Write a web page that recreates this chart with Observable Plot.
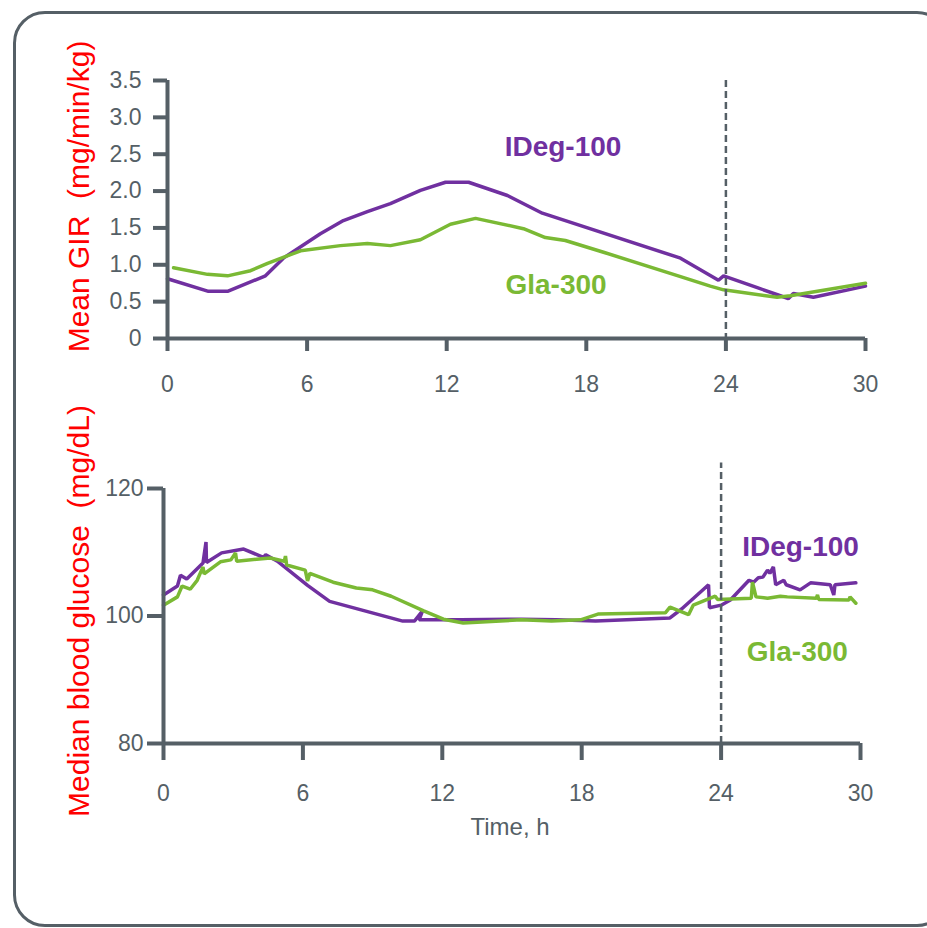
<!DOCTYPE html>
<html>
<head>
<meta charset="utf-8">
<script src="https://cdn.jsdelivr.net/npm/d3@7"></script>
<script src="https://cdn.jsdelivr.net/npm/@observablehq/plot@0.6"></script>
<style>
  html, body { margin: 0; padding: 0; background: #ffffff; }
  #wrap { position: relative; width: 927px; height: 928px; overflow: hidden; background: #fff; font-family: "Liberation Sans", Arial, sans-serif; }
  #border { position: absolute; left: 13px; top: 11px; width: 936px; height: 916px; border: 3px solid #555f66; border-radius: 32px; box-sizing: border-box; }
  .panel { position: absolute; left: 0; }
</style>
</head>
<body>
<div id="wrap">
  <div id="border"></div>
  <div id="topPanel" class="panel" style="top:0px"></div>
  <div id="bottomPanel" class="panel" style="top:400px"></div>
</div>
<script>
// ---------- data ----------
const hourTicks = [0, 6, 12, 18, 24, 30];
const girTicks = [0, 0.5, 1.0, 1.5, 2.0, 2.5, 3.0, 3.5];
const glucoseTicks = [80, 100, 120];
const dividerHour = [24];
const glucoseDividerSpan = [80, 124];

const seriesNames = ["IDeg-100", "Gla-300"];
const seriesColors = ["#7030a0", "#7ab934"];

// Mean GIR (mg/min/kg)
const girIDegHours  = [0, 1.76, 2.58, 4.21, 4.98, 6.57, 7.56, 8.59, 9.58, 10.87, 11.95, 12.94, 14.61, 16.11, 22.05, 23.68, 23.9, 25.35, 26.34, 26.68, 26.9, 27.76, 30];
const girIDegValues = [0.81, 0.64, 0.64, 0.85, 1.09, 1.42, 1.60, 1.72, 1.83, 2.01, 2.12, 2.12, 1.94, 1.70, 1.09, 0.79, 0.85, 0.69, 0.58, 0.54, 0.61, 0.56, 0.71];
const girGlaHours   = [0.26, 1.72, 2.58, 3.57, 4.30, 5.72, 7.43, 8.59, 9.58, 10.87, 12.16, 13.24, 15.30, 16.24, 17.10, 18.74, 22.05, 23.33, 23.9, 26.2, 26.77, 30];
const girGlaValues  = [0.96, 0.87, 0.85, 0.92, 1.02, 1.19, 1.26, 1.29, 1.26, 1.34, 1.55, 1.63, 1.49, 1.37, 1.33, 1.17, 0.84, 0.71, 0.66, 0.56, 0.58, 0.75];

// Median blood glucose (mg/dL)
const bgIDegHours  = [0, 0.6, 0.73, 1.0, 1.7, 1.83, 1.85, 2.5, 3.45, 4.3, 4.4, 4.9, 6.2, 7.15, 10.3, 10.8, 11.15, 11.0, 12.8, 15.4, 16.9, 18.6, 21.8, 22.3, 23.46, 23.5, 24.0, 24.4, 25.2, 25.4, 25.6, 25.8, 26.0, 26.1, 26.25, 26.35, 26.7, 26.8, 27.4, 27.85, 28.7, 28.85, 28.9, 29.8];
const bgIDegValues = [103.3, 104.7, 106.4, 105.8, 108.3, 111.6, 108.4, 109.9, 110.5, 109.2, 109.6, 108.6, 104.8, 102.3, 99.2, 99.2, 100.8, 99.4, 99.4, 99.5, 99.4, 99.2, 99.7, 101.1, 104.9, 101.3, 101.7, 102.5, 105.6, 105.3, 106.0, 106.1, 107.2, 106.7, 107.7, 104.9, 105.6, 104.9, 104.1, 105.2, 104.9, 103.3, 104.9, 105.2];
const bgGlaHours   = [0, 0.6, 0.8, 1.15, 1.45, 1.7, 1.75, 2.45, 2.9, 3.1, 3.15, 4.6, 5.2, 5.25, 5.3, 6.1, 6.2, 6.3, 7.3, 8.3, 9.0, 9.8, 11.2, 12.05, 12.9, 15.4, 16.7, 17.95, 18.7, 21.6, 21.8, 22.6, 22.8, 23.75, 23.85, 25.3, 25.35, 25.5, 26.0, 26.55, 26.85, 28.1, 28.15, 28.2, 29.5, 29.55, 29.8];
const bgGlaValues  = [101.7, 103.0, 104.7, 104.2, 105.6, 107.7, 106.6, 108.5, 108.8, 109.9, 108.6, 109.1, 108.6, 109.4, 108.0, 107.2, 105.5, 106.7, 105.3, 104.4, 104.1, 103.1, 100.8, 99.5, 98.9, 99.4, 99.2, 99.4, 100.3, 100.5, 101.4, 100.2, 101.7, 103.1, 102.6, 102.8, 105.3, 103.0, 102.8, 103.1, 103.0, 102.8, 103.3, 102.6, 102.5, 103.0, 102.0];

// label anchors (data units)
const girLabelHours = [17.0, 16.7];
const girLabelValues = [2.60, 0.72];
const bgLabelHours = [27.42, 27.28];
const bgLabelValues = [110.75, 94.3];

// ---------- helpers ----------
const AXIS = "#555f66";
const FONT = "'Liberation Sans', Arial, Helvetica, sans-serif";
const toRows = (hours, values, s) => hours.map((h, i) => ({hour: h, value: values[i], series: s}));
const girData = [...toRows(girIDegHours, girIDegValues, seriesNames[0]), ...toRows(girGlaHours, girGlaValues, seriesNames[1])];
const bgData = [...toRows(bgIDegHours, bgIDegValues, seriesNames[0]), ...toRows(bgGlaHours, bgGlaValues, seriesNames[1])];
const girLabels = seriesNames.map((s, i) => ({series: s, hour: girLabelHours[i], value: girLabelValues[i]}));
const bgLabels = seriesNames.map((s, i) => ({series: s, hour: bgLabelHours[i], value: bgLabelValues[i]}));
const colorOf = s => seriesColors[seriesNames.indexOf(s)];

// ---------- top panel ----------
const topChart = Plot.plot({
  width: 927, height: 400,
  marginLeft: 167, marginRight: 62, marginTop: 80, marginBottom: 62,
  style: {fontFamily: FONT, color: AXIS, background: "transparent", overflow: "visible"},
  x: {domain: [0, 30]},
  y: {domain: [0, 3.5]},
  marks: [
    Plot.line(girData, {x: "hour", y: "value", z: "series", stroke: d => colorOf(d.series), strokeWidth: 3.5, strokeLinejoin: "miter"}),
    Plot.ruleX(dividerHour, {stroke: AXIS, strokeWidth: 2.5, strokeDasharray: "7,4"}),
    Plot.ruleX([0], {stroke: AXIS, strokeWidth: 4}),
    Plot.ruleY([0], {stroke: AXIS, strokeWidth: 4}),
    Plot.axisY(girTicks, {tickSize: 14, tickPadding: 12, fontSize: 23, strokeWidth: 4, label: null, tickFormat: d => d === 0 ? "0" : d.toFixed(1)}),
    Plot.axisX(hourTicks, {tickSize: 13, tickPadding: 24, fontSize: 23, strokeWidth: 4, label: null}),
    Plot.text(girLabels, {x: "hour", y: "value", text: "series", fill: d => colorOf(d.series), fontSize: 28, fontWeight: "bold"}),
    Plot.text(["Mean GIR\u00a0 (mg/min/kg)"], {frameAnchor: "left", rotate: -90, dx: -79, dy: -13, lineAnchor: "bottom", textAnchor: "middle", fill: "#ff0000", fontSize: 30})
  ]
});
document.getElementById("topPanel").appendChild(topChart);

// ---------- bottom panel ----------
const bottomChart = Plot.plot({
  width: 927, height: 470,
  marginLeft: 163, marginRight: 67, marginTop: 88, marginBottom: 127,
  style: {fontFamily: FONT, color: AXIS, background: "transparent", overflow: "visible"},
  x: {domain: [0, 30]},
  y: {domain: [80, 120]},
  marks: [
    Plot.line(bgData, {x: "hour", y: "value", z: "series", stroke: d => colorOf(d.series), strokeWidth: 3.5, strokeLinejoin: "miter"}),
    Plot.ruleX(dividerHour, {y1: glucoseDividerSpan[0], y2: glucoseDividerSpan[1], stroke: AXIS, strokeWidth: 2.5, strokeDasharray: "7,4"}),
    Plot.ruleX([0], {stroke: AXIS, strokeWidth: 4}),
    Plot.ruleY([80], {stroke: AXIS, strokeWidth: 4}),
    Plot.axisY(glucoseTicks, {tickSize: 16, tickPadding: 4, fontSize: 23, strokeWidth: 4, label: null}),
    Plot.axisX(hourTicks, {tickSize: 17, tickPadding: 24, fontSize: 23, strokeWidth: 4, label: null}),
    Plot.text(bgLabels, {x: "hour", y: "value", text: "series", fill: d => colorOf(d.series), fontSize: 28, fontWeight: "bold"}),
    Plot.text(["Median blood glucose\u00a0 (mg/dL)"], {frameAnchor: "left", rotate: -90, dx: -75, dy: -5, lineAnchor: "bottom", textAnchor: "middle", fill: "#ff0000", fontSize: 30}),
    Plot.text(["Time, h"], {frameAnchor: "bottom", dx: -2, dy: 91, fill: AXIS, fontSize: 24})
  ]
});
document.getElementById("bottomPanel").appendChild(bottomChart);
</script>
</body>
</html>
